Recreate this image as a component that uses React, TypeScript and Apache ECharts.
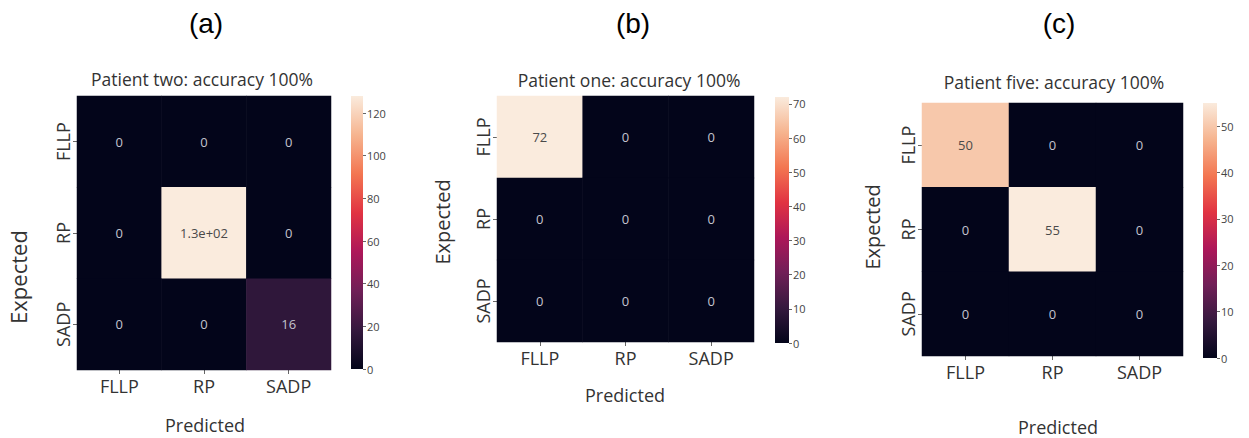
import React, { useEffect, useRef } from "react";
import * as echarts from "echarts";

// Class labels shared by every confusion matrix
const classes = ["FLLP", "RP", "SADP"];

// Confusion matrices, rows = expected class, columns = predicted class
const patientTwo = [
  [0, 0, 0],
  [0, 128, 0],
  [0, 0, 16],
];
const patientOne = [
  [72, 0, 0],
  [0, 0, 0],
  [0, 0, 0],
];
const patientFive = [
  [50, 0, 0],
  [0, 55, 0],
  [0, 0, 0],
];

// Colour-bar tick values for each panel
const ticksTwo = [0, 20, 40, 60, 80, 100, 120];
const ticksOne = [0, 10, 20, 30, 40, 50, 60, 70];
const ticksFive = [0, 10, 20, 30, 40, 50];

const panelLetters = ["(a)", "(b)", "(c)"];
const panelTitles = [
  "Patient two: accuracy 100%",
  "Patient one: accuracy 100%",
  "Patient five: accuracy 100%",
];

// "rocket" sequential colour map, evenly spaced stops
const rocket = [
  "#03051a",
  "#35193e",
  "#701f57",
  "#ad1759",
  "#e13342",
  "#f37651",
  "#f6b48f",
  "#faebdd",
];

const FONT = "'Open Sans', 'Noto Sans', sans-serif";

// two significant digits, like printf's %.2g
function fmt2g(v: number): string {
  if (v === 0) return "0";
  if (Math.abs(v) >= 100) {
    const [m, e] = v.toExponential(1).split("e");
    const ex = parseInt(e, 10);
    const sign = ex < 0 ? "-" : "+";
    const digits = String(Math.abs(ex)).padStart(2, "0");
    return `${m}e${sign}${digits}`;
  }
  return String(Number(v.toPrecision(2)));
}

type Layout = {
  hm: { left: number; top: number; width: number; height: number };
  cb: { left: number; top: number; width: number; height: number };
  letter: [number, number];
  title: [number, number];
  expected: [number, number, number];
  predicted: [number, number];
};

const layouts: Layout[] = [
  {
    hm: { left: 77, top: 96, width: 254, height: 274 },
    cb: { left: 351, top: 96, width: 12, height: 273 },
    letter: [206, 23],
    title: [202, 79],
    expected: [18, 277, 22],
    predicted: [205, 425],
  },
  {
    hm: { left: 497, top: 96, width: 257, height: 246 },
    cb: { left: 775, top: 97, width: 14, height: 246 },
    letter: [633, 23],
    title: [629, 80],
    expected: [442, 222, 20],
    predicted: [625, 395],
  },
  {
    hm: { left: 922, top: 103, width: 261, height: 253 },
    cb: { left: 1203, top: 103, width: 14, height: 255 },
    letter: [1059, 23],
    title: [1054, 82],
    expected: [872, 227, 20],
    predicted: [1058, 427],
  },
];

const matrices = [patientTwo, patientOne, patientFive];
const tickSets = [ticksTwo, ticksOne, ticksFive];

export default function App() {
  const ref = useRef<HTMLDivElement>(null);

  useEffect(() => {
    document.body.style.margin = "0";
    if (!ref.current) return;
    const chart = echarts.init(ref.current, null, { renderer: "svg" });

    const grid: any[] = [];
    const xAxis: any[] = [];
    const yAxis: any[] = [];
    const series: any[] = [];
    const visualMap: any[] = [];
    const graphic: any[] = [];

    matrices.forEach((m, k) => {
      const L = layouts[k];
      const maxV = Math.max(...m.flat());
      const hmIdx = grid.length;
      grid.push({ ...L.hm, containLabel: false });
      const cbIdx = grid.length;
      grid.push({ ...L.cb, containLabel: false });

      // heatmap axes
      xAxis.push({
        type: "category",
        gridIndex: hmIdx,
        data: classes,
        axisLine: { show: false },
        axisTick: { show: true, alignWithLabel: true, length: 4, lineStyle: { color: "#666" } },
        axisLabel: { fontSize: 18, color: "#333", fontFamily: FONT, margin: 7 },
        splitLine: { show: false },
      });
      yAxis.push({
        type: "category",
        gridIndex: hmIdx,
        data: classes,
        inverse: true,
        axisLine: { show: false },
        axisTick: { show: true, alignWithLabel: true, length: 4, lineStyle: { color: "#666" } },
        axisLabel: { fontSize: 18, color: "#333", fontFamily: FONT, rotate: 90, margin: 5 },
        splitLine: { show: false },
      });

      // colour-bar axes
      xAxis.push({
        type: "category",
        gridIndex: cbIdx,
        data: [""],
        show: false,
      });
      const ticks = tickSets[k];
      yAxis.push({
        type: "value",
        gridIndex: cbIdx,
        min: 0,
        max: maxV,
        position: "right",
        axisLine: { show: false },
        splitLine: { show: false },
        axisTick: {
          show: true,
          length: 3,
          lineStyle: { color: "#666" },
          customValues: ticks,
        },
        axisLabel: {
          fontSize: 11,
          color: "#444",
          fontFamily: FONT,
          margin: 4,
          customValues: ticks,
        },
      });

      const data: any[] = [];
      m.forEach((row, r) => {
        row.forEach((v, c) => {
          const light = v / maxV > 0.6;
          data.push({
            value: [c, r, v],
            label: { color: light ? "#4a4a4a" : "#c4c4cf" },
          });
        });
      });

      const hmSeries = series.length;
      series.push({
        type: "heatmap",
        xAxisIndex: hmIdx,
        yAxisIndex: hmIdx,
        data,
        label: {
          show: true,
          fontSize: 13,
          fontFamily: FONT,
          formatter: (p: any) => fmt2g(p.value[2]),
        },
        itemStyle: { borderWidth: 0 },
        emphasis: { disabled: true },
      });
      visualMap.push({
        type: "continuous",
        show: false,
        min: 0,
        max: maxV,
        dimension: 2,
        seriesIndex: hmSeries,
        inRange: { color: rocket },
      });

      // colour-bar strip
      series.push({
        type: "bar",
        xAxisIndex: cbIdx,
        yAxisIndex: cbIdx,
        data: [maxV],
        barWidth: "100%",
        silent: true,
        itemStyle: {
          color: new echarts.graphic.LinearGradient(
            0,
            1,
            0,
            0,
            rocket.map((c, i) => ({ offset: i / (rocket.length - 1), color: c }))
          ),
        },
      });

      graphic.push(
        {
          type: "text",
          x: L.letter[0],
          y: L.letter[1],
          style: {
            text: panelLetters[k],
            font: "28px 'Liberation Sans', Arial, sans-serif",
            fill: "#000",
            textAlign: "center",
            textVerticalAlign: "middle",
          },
        },
        {
          type: "text",
          x: L.title[0],
          y: L.title[1],
          style: {
            text: panelTitles[k],
            font: `17.5px ${FONT}`,
            fill: "#333",
            textAlign: "center",
            textVerticalAlign: "middle",
          },
        },
        {
          type: "text",
          x: L.expected[0],
          y: L.expected[1],
          rotation: Math.PI / 2,
          style: {
            text: "Expected",
            font: `${L.expected[2]}px ${FONT}`,
            fill: "#333",
            textAlign: "center",
            textVerticalAlign: "middle",
          },
        },
        {
          type: "text",
          x: L.predicted[0],
          y: L.predicted[1],
          style: {
            text: "Predicted",
            font: `18px ${FONT}`,
            fill: "#333",
            textAlign: "center",
            textVerticalAlign: "middle",
          },
        }
      );
    });

    chart.setOption({
      animation: false,
      backgroundColor: "#fff",
      grid,
      xAxis,
      yAxis,
      visualMap,
      series,
      graphic,
    });

    return () => chart.dispose();
  }, []);

  return <div ref={ref} style={{ width: 1249, height: 438 }} />;
}
